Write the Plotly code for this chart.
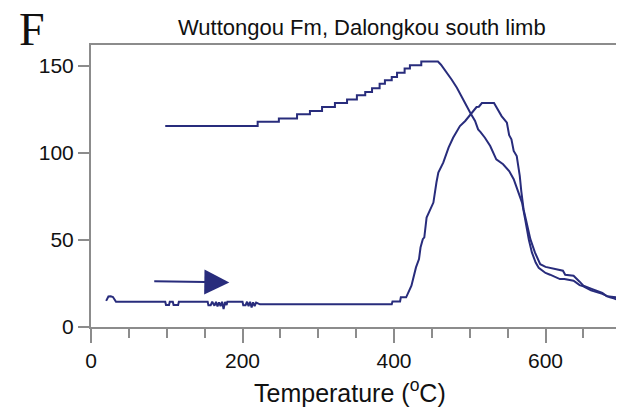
import plotly.graph_objects as go

# ---- data ----
# heating curve: temperature (°C) and signal
heat_T = [20, 23, 26, 29, 33, 98, 99, 103, 104, 108, 109, 115, 116,
          154, 155, 158, 160, 163, 165, 167, 169, 171, 173, 175, 177, 179, 180,
          200, 201, 204, 206, 208, 210, 212, 214, 216, 218, 222, 223,
          397, 398, 408, 409, 416, 423, 429, 433, 435, 438, 440, 441, 443, 447,
          452, 456, 458.5, 465, 472, 478, 487, 494, 503, 506, 509, 512, 516,
          532, 537, 542, 549, 552, 555, 558, 562, 566, 568, 571, 575, 580,
          586, 593, 600, 606, 615, 623, 626, 637, 645, 650, 660, 668, 675,
          681, 688, 694, 698, 703]
heat_M = [15, 17.5, 17.6, 17.2, 14.5, 14.5, 12.6, 12.6, 14.5, 14.5, 12.6, 12.6, 14.5,
          14.5, 12.5, 12.5, 14.5, 12.2, 14.5, 11.8, 14.2, 12.0, 14.5, 10.3, 14.3, 12.6, 14.5,
          14.5, 12.5, 12.5, 14.5, 12.0, 14.5, 11.2, 14.2, 12.0, 14.0, 13.2, 13.0,
          13.0, 14.7, 14.7, 17.0, 17.0, 23.7, 34.2, 39.0, 45.6, 50.4, 51.4, 56.1, 62.8, 66.6,
          71.4, 82.9, 88.6, 94.3, 102.9, 108.6, 115.3, 118.2, 123.3, 125.0, 126.2, 126.4, 128.5,
          128.5, 125.0, 121.0, 117.2, 110.0, 107.7, 101.0, 98.1, 86.7, 78.0, 67.6, 60.0, 50.4,
          42.8, 36.0, 34.5, 34.0, 33.0, 32.3, 30.0, 29.4, 26.0, 23.7, 22.0, 20.8, 19.5,
          17.6, 17.4, 17.0, 15.1, 15.0]

# cooling curve: temperature (°C) and signal
cool_T = [98, 220, 220, 248, 248, 272, 272, 289, 289, 305, 305, 322, 322,
          338, 338, 351, 351, 362, 362, 371, 371, 381, 381, 388, 388, 397, 397,
          404, 404, 414, 414, 421, 421, 436, 436, 458,
          462, 465, 470, 476, 483, 489, 495, 501, 507, 511, 514, 520, 527, 535,
          544, 552, 558, 563, 569, 573, 578, 582, 587, 591, 600, 606, 615, 619,
          625, 637, 645, 650, 660, 668, 675, 685, 690, 698, 703]
cool_M = [115.3, 115.3, 117.8, 117.8, 119.7, 119.7, 122.0, 122.0, 124.0, 124.0, 126.2, 126.2, 128.5,
          128.5, 130.6, 130.6, 132.9, 132.9, 134.8, 134.8, 137.0, 137.0, 139.6, 139.6, 141.6, 141.6, 143.4,
          143.4, 145.9, 145.9, 148.3, 148.3, 150.2, 150.2, 152.3, 152.3,
          150.5, 148.7, 145.9, 142.0, 137.3, 132.5, 126.8, 122.6, 118.2, 113.4, 112.0, 108.6, 103.8, 96.2,
          93.4, 89.5, 84.8, 79.0, 71.4, 62.0, 50.0, 42.8, 37.0, 34.0, 31.0, 30.0, 28.5, 27.5,
          27.5, 26.5, 24.0, 23.3, 21.0, 19.9, 19.0, 17.0, 16.5, 15.0, 14.8]

# arrow (heating direction)
arrow_T = [81.5, 182.6]
arrow_M = [26.2, 25.6]

x_ticks = [0, 200, 400, 600]
y_ticks = [0, 50, 100, 150]

title_text = "Wuttongou Fm, Dalongkou south limb"
panel_label = "F"
x_title = "Temperature (<sup>o</sup>C)"

# ---- styling ----
LINE = "#282c7c"
AXIS = "#8c8c8c"
SANS = "Liberation Sans, Arial, sans-serif"

# the page body has an 8px margin, so the figure is 8px smaller each way
W, H = 616, 404
L, T_, B = 83, 37, 84.5
PW, PH = W - L, H - T_ - B

def px(xpage):
    return (xpage - 8 - L) / PW

def py(ypage):
    return 1 - (ypage - 8 - T_) / PH

fig = go.Figure()
fig.add_trace(go.Scatter(x=heat_T, y=heat_M, mode="lines",
                         line=dict(color=LINE, width=2), hoverinfo="skip"))
fig.add_trace(go.Scatter(x=cool_T, y=cool_M, mode="lines",
                         line=dict(color=LINE, width=2), hoverinfo="skip"))

fig.add_annotation(x=arrow_T[1], y=arrow_M[1], ax=arrow_T[0], ay=arrow_M[0],
                   xref="x", yref="y", axref="x", ayref="y",
                   showarrow=True, arrowhead=2, arrowsize=2.5, arrowwidth=2,
                   arrowcolor=LINE, text="")

fig.add_annotation(text=title_text, xref="paper", yref="paper",
                   x=px(362), y=py(27), xanchor="center", yanchor="middle",
                   showarrow=False, font=dict(family=SANS, size=22, color="#111"))
fig.add_annotation(text=panel_label, xref="paper", yref="paper",
                   x=px(32), y=py(29), xanchor="center", yanchor="middle",
                   showarrow=False,
                   font=dict(family="Liberation Serif, Times New Roman, serif", size=46, color="#111"))
fig.add_annotation(text=x_title, xref="paper", yref="paper",
                   x=px(350), y=py(392), xanchor="center", yanchor="middle",
                   showarrow=False, font=dict(family=SANS, size=25, color="#111"))

fig.update_xaxes(range=[0, 703.6], tickvals=x_ticks, ticks="outside", ticklen=14,
                 tickwidth=2, tickcolor=AXIS, showline=True, linecolor=AXIS, linewidth=2,
                 mirror=True, showgrid=False, zeroline=False,
                 minor=dict(dtick=50, tick0=0, ticks="outside", ticklen=9, tickwidth=2,
                            tickcolor=AXIS, showgrid=False),
                 tickfont=dict(family=SANS, size=21, color="#111"))
fig.update_yaxes(range=[0, 161.8], tickvals=y_ticks, ticks="outside", ticklen=11,
                 tickwidth=2, tickcolor=AXIS, showline=True, linecolor=AXIS, linewidth=2,
                 showgrid=False, zeroline=False,
                 tickfont=dict(family=SANS, size=21, color="#111"))

fig.update_layout(width=W, height=H, margin=dict(l=L, r=0, t=T_, b=B),
                  paper_bgcolor="white", plot_bgcolor="white", showlegend=False)

fig.write_html("out.html")
